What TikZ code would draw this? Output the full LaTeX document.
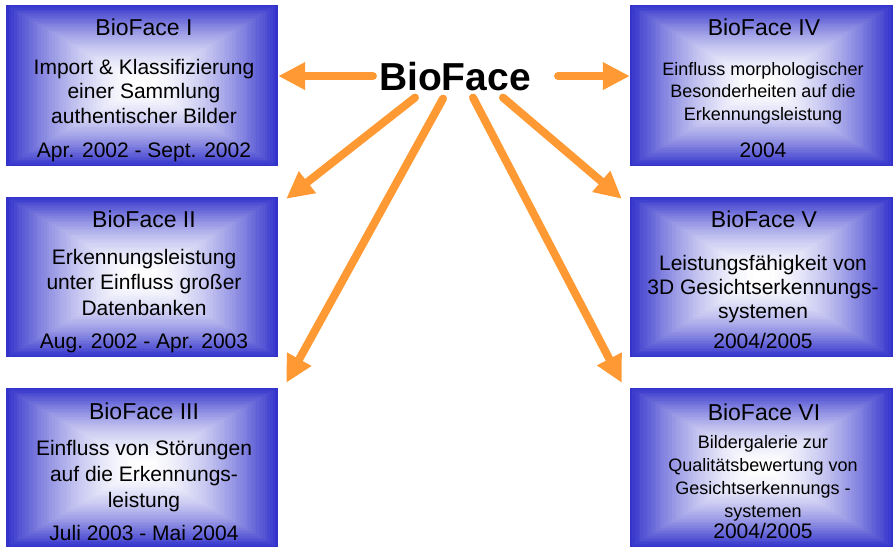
\documentclass[tikz,border=0pt]{standalone}
\usepackage{fontspec}
\setmainfont{Liberation Sans}
\usetikzlibrary{positioning,calc,arrows.meta}

\definecolor{bfblue}{RGB}{51,51,204}
\definecolor{bforange}{RGB}{255,153,51}

\tikzset{
  box/.style={minimum width=#1, minimum height=160pt, inner sep=0pt},
  title/.style={anchor=base, font=\fontsize{23}{27}\selectfont},
  body/.style={anchor=base, align=center, font=\fontsize{21}{#1}\selectfont},
  smallbody/.style={anchor=base, align=center, font=\fontsize{18}{#1}\selectfont},
  date/.style={anchor=base, font=\fontsize{21}{25}\selectfont},
  arr/.style={draw=bforange, line width=8pt, line cap=round,
    -{Triangle[length=27pt, width=26pt]}},
}

% Farbverlauf von der Mitte (weiss) zum Rand (blau)
\newcommand{\gradfill}[1]{%
  \foreach \k in {0,...,50}{
    \pgfmathsetmacro{\f}{1-\k/50}
    \pgfmathtruncatemacro{\p}{100*\f^1.7}
    \fill[bfblue!\p!white] ($(#1.center)!\f!(#1.north west)$) rectangle ($(#1.center)!\f!(#1.south east)$);
  }}

\begin{document}
\begin{tikzpicture}[x=1pt, y=-1pt]
  \useasboundingbox (0,0) rectangle (894,547);

  % Kaesten
  \node[box=272pt, minimum height=161pt] (b1) at (142,85.5) {};
  \node[box=272pt] (b2) at (142,277) {};
  \node[box=272pt, minimum height=159pt] (b3) at (142,467.5) {};
  \node[box=263pt, minimum height=161pt] (b4) at (761.5,85.5) {};
  \node[box=263pt] (b5) at (761.5,277) {};
  \node[box=263pt, minimum height=159pt] (b6) at (761.5,467.5) {};
  \foreach \b in {b1,b2,b3,b4,b5,b6} \gradfill{\b};

  % Texte links (Grundlinie der letzten Zeile)
  \node[title] (t1) at (144,35) {BioFace I};
  \node[body=24.5] (s1) at (144,123) {Import \& Klassifizierung\\einer Sammlung\\authentischer Bilder};
  \node[date] (d1) at (144,157) {Apr. 2002 - Sept. 2002};

  \node[title] (t2) at (144,227) {BioFace II};
  \node[body=25.5] (s2) at (144,315) {Erkennungsleistung\\unter Einfluss gro{\ss}er\\Datenbanken};
  \node[date] (d2) at (144,348) {Aug. 2002 - Apr. 2003};

  \node[title] (t3) at (144,419) {BioFace III};
  \node[body=26] (s3) at (144,507) {Einfluss von St\"orungen\\auf die Erkennungs-\\leistung};
  \node[date] (d3) at (144,540) {Juli 2003 - Mai 2004};

  % Texte rechts
  \node[title] (t4) at (764,35) {BioFace IV};
  \node[smallbody=22.5] (s4) at (763,120) {Einfluss morphologischer\\Besonderheiten auf die\\Erkennungsleistung};
  \node[date] (d4) at (763,157) {2004};

  \node[title] (t5) at (764,227) {BioFace V};
  \node[body=24] (s5) at (763,318) {Leistungsf\"ahigkeit von\\3D Gesichtserkennungs-\\systemen};
  \node[date] (d5) at (763,348) {2004/2005};

  \node[title] (t6) at (764,420) {BioFace VI};
  \node[smallbody=23] (s6) at (763,517) {Bildergalerie zur\\Qualit\"atsbewertung von\\Gesichtserkennungs -\\systemen};
  \node[date] (d6) at (763,538) {2004/2005};

  % Mitte
  \node[anchor=base, inner sep=0pt, font=\fontsize{39}{44}\selectfont\bfseries] (hub) at (455,90) {BioFace};

  % Pfeile
  \draw[arr] ([xshift=-6]hub.west) -- (b1.east |- hub.west);
  \draw[arr] ([xshift=27]hub.east) -- (b4.west |- hub.east);
  \draw[arr] ([shift={(-40,7)}]hub.south) -- ([shift={(8,2)}]b2.north east);
  \draw[arr] ([shift={(-12,8)}]hub.south) -- ([shift={(8,-5)}]b3.north east);
  \draw[arr] ([shift={(48,7)}]hub.south) -- ([shift={(-8,2)}]b5.north west);
  \draw[arr] ([shift={(18,7)}]hub.south) -- ([shift={(-8,-5)}]b6.north west);
\end{tikzpicture}
\end{document}
